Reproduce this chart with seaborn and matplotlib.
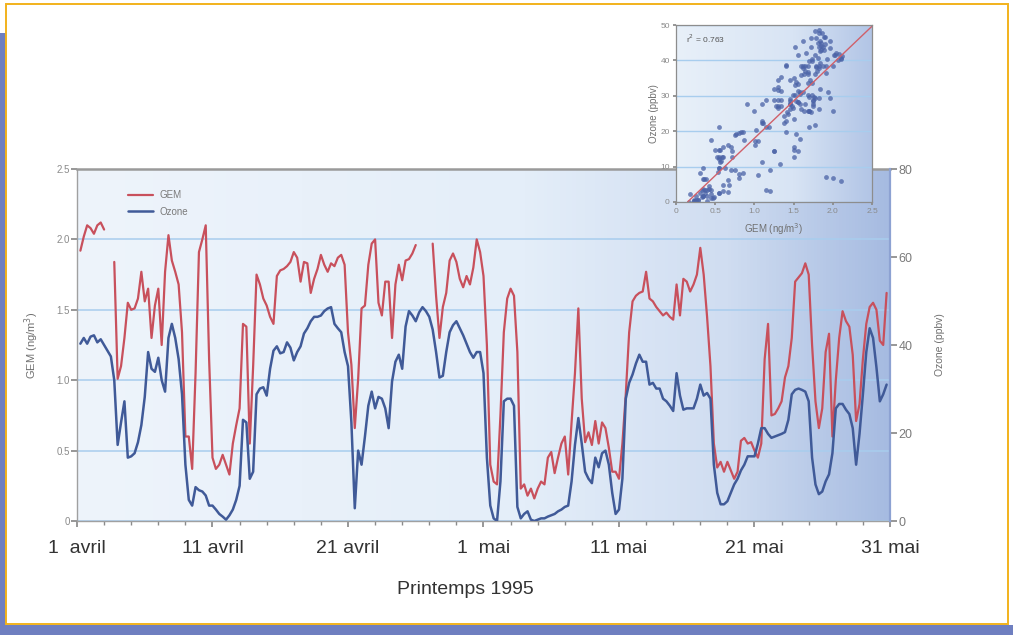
import numpy as np
import pandas as pd
import matplotlib
matplotlib.use("Agg")
import matplotlib.pyplot as plt
import matplotlib.dates as mdates
from matplotlib.colors import LinearSegmentedColormap
from matplotlib.patches import Rectangle
from matplotlib.lines import Line2D
import seaborn as sns

sns.set_theme(style="white")
plt.rcParams['font.family'] = ['Liberation Sans', 'DejaVu Sans']

# ---------------- data (6-hourly, from 1 April 1995 06:00) ----------------
times = pd.date_range("1995-04-01 06:00", periods=239, freq="6h")

nan = np.nan
gem = [
    1.92, 2.02, 2.10,
    2.08, 2.04, 2.10, 2.12,
    2.07, nan, nan, 1.84,
    1.01, 1.10, 1.30, 1.55,
    1.50, 1.51, 1.58, 1.77,
    1.56, 1.65, 1.30, 1.53,
    1.65, 1.25, 1.77, 2.03,
    1.85, 1.77, 1.68, 1.34,
    0.60, 0.60, 0.37, 1.05,
    1.91, 2.00, 2.10, 1.15,
    0.45, 0.37, 0.40, 0.47,
    0.40, 0.33, 0.55, 0.68,
    0.80, 1.40, 1.38, 0.55,
    1.10, 1.75, 1.68, 1.58,
    1.53, 1.45, 1.40, 1.74,
    1.78, 1.79, 1.81, 1.84,
    1.91, 1.87, 1.70, 1.84,
    1.83, 1.62, 1.72, 1.79,
    1.89, 1.82, 1.77, 1.83,
    1.81, 1.87, 1.89, 1.82,
    1.34, 1.11, 0.66, 1.01,
    1.51, 1.53, 1.82, 1.97,
    2.00, 1.55, 1.46, 1.70,
    1.70, 1.30, 1.68, 1.82,
    1.71, 1.85, 1.86, 1.90,
    1.96, nan, nan, nan,
    nan, 1.97, 1.60, 1.30,
    1.52, 1.62, 1.85, 1.90,
    1.84, 1.72, 1.66, 1.74,
    1.68, 1.80, 2.00, 1.91,
    1.74, 1.25, 0.40, 0.28,
    0.26, 0.75, 1.34, 1.58,
    1.65, 1.60, 1.20, 0.23,
    0.26, 0.18, 0.23, 0.16,
    0.23, 0.28, 0.26, 0.45,
    0.49, 0.34, 0.45, 0.55,
    0.60, 0.33, 0.70, 1.05,
    1.51, 0.87, 0.56, 0.63,
    0.54, 0.71, 0.55, 0.70,
    0.66, 0.52, 0.35, 0.35,
    0.30, 0.55, 0.90, 1.34,
    1.56, 1.60, 1.62, 1.63,
    1.77, 1.58, 1.56, 1.52,
    1.49, 1.46, 1.48, 1.45,
    1.43, 1.68, 1.46, 1.72,
    1.70, 1.63, 1.68, 1.75,
    1.94, 1.75, 1.45, 1.10,
    0.55, 0.38, 0.42, 0.35,
    0.42, 0.36, 0.30, 0.35,
    0.57, 0.59, 0.55, 0.56,
    0.50, 0.45, 0.55, 1.15,
    1.40, 0.75, 0.76, 0.80,
    0.85, 1.02, 1.10, 1.30,
    1.70, 1.73, 1.76, 1.83,
    1.75, 1.25, 0.85, 0.66,
    0.80, 1.20, 1.33, 0.60,
    1.00, 1.30, 1.49, 1.42,
    1.38, 1.18, 0.71, 0.83,
    1.15, 1.40, 1.52, 1.55,
    1.50, 1.28, 1.25, 1.62,
]

ozone = [
    40.3, 41.6, 40.3,
    41.9, 42.2, 40.6, 41.3,
    40.0, 38.7, 37.4, 32.0,
    17.3, 22.4, 27.2, 14.4,
    14.7, 15.4, 17.9, 21.8,
    28.2, 38.4, 34.6, 33.9,
    37.1, 32.0, 29.4, 41.6,
    44.8, 41.6, 36.8, 28.8,
    12.8, 4.8, 3.5, 7.7,
    7.0, 6.7, 5.8, 3.5,
    3.5, 2.6, 1.6, 1.0,
    0.3, 1.3, 2.6, 4.8,
    8.0, 23.0, 22.4, 9.6,
    11.2, 28.8, 30.1, 30.4,
    28.5, 34.6, 38.7, 39.7,
    38.1, 38.4, 40.6, 39.4,
    36.5, 38.4, 39.7, 42.6,
    43.8, 45.4, 46.4, 46.4,
    46.7, 47.7, 48.3, 48.6,
    44.8, 43.8, 42.9, 38.4,
    35.2, 22.4, 2.9, 16.0,
    12.8, 19.2, 26.2, 29.4,
    25.6, 28.2, 27.8, 25.6,
    21.1, 31.7, 36.2, 37.8,
    34.6, 44.2, 47.7, 46.7,
    45.4, 47.4, 48.6, 47.7,
    46.4, 43.5, 38.4, 32.6,
    33.0, 38.4, 42.9, 44.5,
    45.4, 43.8, 42.2, 40.3,
    38.4, 37.1, 38.4, 38.4,
    33.6, 14.4, 3.5, 0.6,
    0.0, 9.0, 27.2, 27.8,
    27.8, 26.2, 3.2, 0.6,
    1.6, 2.2, 0.3, 0.0,
    0.3, 0.6, 0.6, 1.0,
    1.3, 1.6, 2.2, 2.6,
    3.2, 3.5, 9.0, 17.3,
    23.4, 17.6, 11.2, 9.6,
    8.6, 14.4, 12.2, 15.4,
    16.0, 12.8, 6.4, 1.6,
    2.6, 9.6, 27.8, 31.4,
    33.3, 35.8, 37.8, 36.2,
    36.2, 31.0, 31.4, 30.1,
    30.1, 27.8, 27.2, 26.2,
    25.0, 33.6, 28.5, 25.3,
    25.6, 25.6, 25.6, 27.8,
    31.0, 28.5, 29.1, 27.8,
    12.8, 6.4, 3.8, 3.8,
    4.5, 6.4, 8.3, 9.6,
    11.5, 12.8, 14.7, 14.7,
    14.7, 17.6, 21.1, 21.1,
    19.8, 18.9, 19.2, 19.5,
    19.8, 20.2, 23.0, 28.8,
    29.8, 30.1, 29.8, 29.4,
    27.2, 14.4, 8.3, 6.1,
    6.7, 9.0, 10.6, 15.4,
    25.6, 26.6, 26.6, 25.3,
    24.3, 21.1, 12.8, 19.8,
    28.8, 38.4, 43.8, 41.6,
    34.9, 27.2, 28.8, 31.0,
]

fit_slope = 21.1
fit_intercept = -3.1
fit_gem_range = [0.15, 2.5]
r2_label = "r$^2$ = 0.763"

tick_dates = ["1995-04-01", "1995-04-11", "1995-04-21", "1995-05-01",
              "1995-05-11", "1995-05-21", "1995-05-31"]
tick_labels = ["1  avril", "11 avril", "21 avril", "1  mai",
               "11 mai", "21 mai", "31 mai"]
gem_ticks = [0, 0.5, 1.0, 1.5, 2.0, 2.5]
gem_tick_labels = ["0", "0.5", "1.0", "1.5", "2.0", "2.5"]
ozone_ticks = [0, 20, 40, 60, 80]
inset_x_ticks = [0, 0.5, 1.0, 1.5, 2.0, 2.5]
inset_x_labels = ["0", "0.5", "1.0", "1.5", "2.0", "2.5"]
inset_y_ticks = [0, 10, 20, 30, 40, 50]

# ---------------- frames ----------------
df = pd.DataFrame({"time": times, "gem": gem, "ozone": ozone})
df["seg"] = df["gem"].isna().cumsum()
df_gem = df.dropna(subset=["gem"])
df_sc = df.dropna()

RED = "#c8505c"
BLUE = "#405a98"
GRID = "#a8cdee"
GRAY = "#8a8a8a"

W, H = 1013, 635
fig = plt.figure(figsize=(W / 100, H / 100), dpi=100, facecolor="white")

def frac_rect(x0, y0, x1, y1):
    return [x0 / W, 1 - y1 / H, (x1 - x0) / W, (y1 - y0) / H]

# outer decoration
frame_blue = "#6f7fc0"
fig.patches.append(Rectangle((0, 0), 1, 10 / H, transform=fig.transFigure,
                             facecolor=frame_blue, edgecolor="none", zorder=0))
fig.patches.append(Rectangle((0, 0), 6 / W, 1 - 33 / H, transform=fig.transFigure,
                             facecolor=frame_blue, edgecolor="none", zorder=0))
fig.patches.append(Rectangle((6 / W, 11 / H), (1008 - 6) / W, (624 - 4) / H,
                             transform=fig.transFigure, facecolor="none",
                             edgecolor="#f2b21c", lw=1.4, zorder=1))

# ---------------- main panel ----------------
main_rect = frac_rect(77, 169, 890, 521)
bg = fig.add_axes(main_rect, zorder=0)
cmap_bg = LinearSegmentedColormap.from_list(
    "bg", [(0, "#eef4fb"), (0.55, "#e4eef9"), (0.8, "#d0ddf1"), (1.0, "#a6bbe1")])
bg.imshow(np.linspace(0, 1, 256)[None, :], cmap=cmap_bg, aspect="auto",
          extent=[0, 1, 0, 1])
bg.set_axis_off()

ax = fig.add_axes(main_rect, zorder=1)
ax.patch.set_visible(False)
x0 = pd.Timestamp("1995-04-01")
x1 = pd.Timestamp("1995-05-31")

sns.lineplot(data=df_gem, x="time", y="gem", units="seg", estimator=None,
             color=RED, lw=1.6, ax=ax, legend=False)
ax.set_xlim(x0, x1)
ax.set_ylim(0, 2.5)
ax.set_yticks(gem_ticks)
ax.set_yticklabels(gem_tick_labels)
ax.yaxis.grid(True, color=GRID, lw=1.1)
ax.xaxis.grid(False)
ax.set_axisbelow(True)
ax.set_xticks(pd.to_datetime(tick_dates))
ax.set_xticklabels(tick_labels)
ax.xaxis.set_minor_locator(mdates.DayLocator(bymonthday=list(range(1, 32, 2))))
ax.tick_params(axis="x", which="major", labelsize=14, labelcolor="#333333",
               pad=10, length=4, color=GRAY, direction="out", bottom=True)
ax.tick_params(axis="x", which="minor", length=3, color=GRAY, direction="out",
               bottom=True)
ax.tick_params(axis="y", labelsize=7, labelcolor=GRAY, length=4, color=GRAY,
               direction="out", left=True, pad=1)
ax.set_xlabel("")
ax.set_ylabel("GEM (ng/m$^3$)", fontsize=8, color="#707070", labelpad=11)
for s in ["left", "bottom"]:
    ax.spines[s].set_color("#a0a0a0")
    ax.spines[s].set_linewidth(1.0)
ax.spines["top"].set_color("#9a9a9a")
ax.spines["top"].set_linewidth(1.8)
ax.spines["right"].set_visible(False)

ax2 = ax.twinx()
ax2.set_zorder(2)
ax2.patch.set_visible(False)
sns.lineplot(data=df, x="time", y="ozone", color=BLUE, lw=1.8, ax=ax2,
             legend=False)
ax2.set_xlim(x0, x1)
ax2.set_ylim(0, 80)
ax2.set_yticks(ozone_ticks)
ax2.grid(False)
ax2.tick_params(axis="y", labelsize=9, labelcolor="#7a7a7a", length=5,
                color=GRAY, direction="out", right=True, pad=1)
ax2.set_ylabel("Ozone (ppbv)", fontsize=7.5, color="#707070", rotation=90,
               labelpad=16)
for s in ["left", "top", "bottom"]:
    ax2.spines[s].set_visible(False)
ax2.spines["right"].set_color("#8da2d2")
ax2.spines["right"].set_linewidth(1.6)

handles = [Line2D([], [], color=RED, lw=1.6), Line2D([], [], color=BLUE, lw=1.8)]
leg = ax2.legend(handles, ["GEM", "Ozone"], loc="upper left",
                 bbox_to_anchor=(0.052, 0.965), frameon=False, fontsize=7,
                 handlelength=2.6, labelspacing=0.7, handletextpad=0.6)
for t in leg.get_texts():
    t.set_color("#7a7a7a")

fig.text(465 / W, 1 - 590 / H, "Printemps 1995", ha="center", va="center",
         fontsize=14, color="#333333")

# ---------------- inset scatter ----------------
inset_rect = frac_rect(676, 25, 872, 202)
bgi = fig.add_axes(inset_rect, zorder=5)
cmap_in = LinearSegmentedColormap.from_list(
    "bgi", [(0, "#e8f0f9"), (0.6, "#d8e4f4"), (1.0, "#b2c5e6")])
bgi.imshow(np.linspace(0, 1, 256)[None, :], cmap=cmap_in, aspect="auto",
           extent=[0, 1, 0, 1])
bgi.set_axis_off()

axi = fig.add_axes(inset_rect, zorder=6)
axi.patch.set_visible(False)
sns.scatterplot(data=df_sc, x="gem", y="ozone", ax=axi, s=12,
                color="#4a62a6", alpha=0.75, linewidth=0, legend=False)
fit_x = np.array(fit_gem_range)
sns.lineplot(x=fit_x, y=fit_slope * fit_x + fit_intercept, ax=axi,
             color="#d0606a", lw=1.0, legend=False)
axi.set_xlim(0, 2.5)
axi.set_ylim(0, 50)
axi.set_xticks(inset_x_ticks)
axi.set_xticklabels(inset_x_labels)
axi.set_yticks(inset_y_ticks)
axi.yaxis.grid(True, color=GRID, lw=1.0)
axi.xaxis.grid(False)
axi.set_axisbelow(True)
axi.tick_params(axis="both", labelsize=6, labelcolor="#8a8a8a", length=2.5,
                color=GRAY, direction="out", pad=2, left=True, bottom=True)
axi.set_xlabel("GEM (ng/m$^3$)", fontsize=7, color="#707070", labelpad=4)
axi.set_ylabel("Ozone (ppbv)", fontsize=7, color="#707070", labelpad=1)
for s in axi.spines.values():
    s.set_color("#8d8d8d")
    s.set_linewidth(0.9)
axi.text(0.05, 0.92, r2_label, transform=axi.transAxes, fontsize=6,
         color="#555555", va="center")

fig.savefig("out.png", dpi=100, facecolor="white")
